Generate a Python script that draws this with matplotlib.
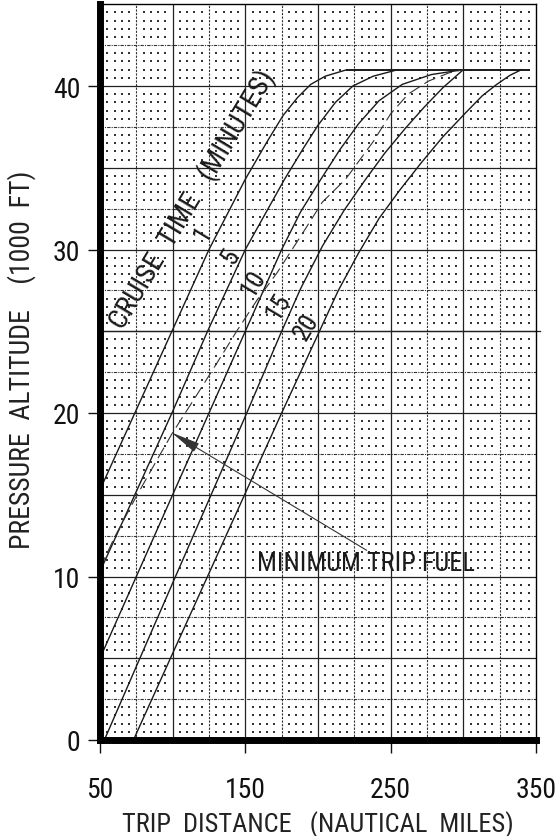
import numpy as np
import matplotlib
matplotlib.use("Agg")
import matplotlib.pyplot as plt
from matplotlib import font_manager

# narrow sans if installed, else the Arial look-alike
names = {f.name for f in font_manager.fontManager.ttflist}
FONT = 'Liberation Sans'
for cand in ['Liberation Sans Narrow', 'Roboto Condensed', 'Noto Sans Condensed']:
    if cand in names:
        FONT = cand
        break
plt.rcParams['font.family'] = [FONT, 'DejaVu Sans']

# cruise time curves (trip distance nm, pressure altitude 1000 ft)
c1_x = [50, 75, 100, 125, 150, 165, 176, 186, 195, 205, 220]
c1_y = [15.3, 20.2, 25.1, 30.0, 34.3, 36.6, 38.2, 39.3, 40.1, 40.6, 41.0]

c5_x = [50, 75, 100, 124, 150, 177, 190, 200, 212, 224, 238, 255]
c5_y = [10.3, 15.2, 20.1, 25.0, 30.0, 34.3, 36.2, 37.6, 39.0, 40.0, 40.6, 41.0]

c10_x = [50, 75, 100, 125, 150, 175, 188, 202, 215, 228, 242, 258, 278, 300]
c10_y = [5.0, 10.0, 15.0, 20.0, 25.0, 30.0, 32.3, 34.3, 36.1, 37.7, 39.1, 40.1, 40.7, 41.0]

c15_x = [53, 75, 100, 125, 150, 175, 188, 203, 218, 232, 246, 260, 273, 286, 300]
c15_y = [0, 4.5, 9.6, 14.7, 19.8, 25.0, 27.6, 30.2, 32.4, 34.2, 35.9, 37.4, 38.7, 39.9, 41.0]

c20_x = [73, 100, 125, 150, 175, 201, 214, 228, 242, 256, 271, 286, 302, 313, 323, 332, 340]
c20_y = [0, 5.3, 10.2, 15.1, 20.0, 25.0, 27.5, 29.8, 31.9, 33.6, 35.3, 36.9, 38.4, 39.4, 40.1, 40.65, 41.0]

# minimum trip fuel (dashed)
mtf_x = [50, 60, 75, 89, 100, 118, 135, 144, 158, 172, 188, 203, 219, 238, 250, 262, 276, 290, 300]
mtf_y = [10.5, 12.4, 14.9, 17.1, 18.8, 21.3, 23.7, 25.0, 26.9, 28.6, 30.8, 32.9, 34.3, 36.6, 38.3, 39.5, 40.3, 40.8, 41.0]

# ceiling
ceil_x = [220, 345]
ceil_y = [41, 41]

curve_labels = ['1', '5', '10', '15', '20']
label_x = [121, 139.5, 155.5, 172.7, 192.2]
label_y = [31.0, 29.6, 28.0, 26.6, 25.3]

xticks = [50, 150, 250, 350]
yticks = [0, 10, 20, 30, 40]

fig = plt.figure(figsize=(5.56, 8.37), dpi=100)
ax = fig.add_axes([100 / 556, 96 / 837, 436 / 556, 735.75 / 837])
ax.set_xlim(50, 350)
ax.set_ylim(0, 45)

# background grid
for v in np.arange(100, 350, 50):
    ax.axvline(v, color='#222', lw=0.9, zorder=1)
for v in np.arange(75, 350, 50):
    ax.axvline(v, color='#333', lw=0.8, ls=(0, (2, 1.2)), zorder=1)
for h in np.arange(5, 45, 5):
    ax.axhline(h, color='#222', lw=0.9, zorder=1)
for h in np.arange(2.5, 45, 5):
    ax.axhline(h, color='#333', lw=0.8, ls=(0, (3, 1, 1, 1)), zorder=1)
# the 25 line runs past the frame on the right
ax.plot([50, 353], [25, 25], color='#222', lw=0.9, clip_on=False, zorder=1)

dx = np.arange(55, 350, 5)
dx = dx[dx % 25 != 0]
dy = np.arange(0.5, 45, 0.5)
dy = dy[(dy * 2) % 5 != 0]
gx, gy = np.meshgrid(dx, dy)
ax.scatter(gx.ravel(), gy.ravel(), s=1.3, marker='s', color='#333', linewidths=0, zorder=1)

# curves
for xs, ys in [(c1_x, c1_y), (c5_x, c5_y), (c10_x, c10_y), (c15_x, c15_y), (c20_x, c20_y)]:
    ax.plot(xs, ys, color='#1a1a1a', lw=1.0, zorder=3, solid_joinstyle='round')
ax.plot(ceil_x, ceil_y, color='#1a1a1a', lw=1.4, zorder=3)
ax.plot(mtf_x, mtf_y, color='#333', lw=0.8, ls=(0, (11, 5)), zorder=3)

for t, x, y in zip(curve_labels, label_x, label_y):
    ax.text(x, y, t, rotation=59, fontsize=19, ha='center', va='center', color='#1a1a1a', zorder=4)

ax.text(113.6, 33.15, 'CRUISE  TIME   (MINUTES)', rotation=59, fontsize=20.5,
        ha='center', va='center', color='#1a1a1a', zorder=4)

ax.annotate('', xy=(99.3, 18.8), xytext=(233.5, 11.6),
            arrowprops=dict(arrowstyle='-|>,head_length=1.8,head_width=0.3',
                            color='#333', lw=0.8, shrinkA=0, shrinkB=0), zorder=4)
ax.text(158, 10.8, 'MINIMUM TRIP FUEL', fontsize=19, ha='left', va='center',
        color='#1a1a1a', zorder=4)

# frame
for s in ['left', 'bottom']:
    ax.spines[s].set_linewidth(5)
    ax.spines[s].set_zorder(5)
for s in ['top', 'right']:
    ax.spines[s].set_linewidth(1)

ax.set_xticks(xticks)
ax.set_yticks(yticks)
ax.tick_params(axis='both', direction='out', length=9, width=1, labelsize=20, colors='#111')
ax.tick_params(axis='x', pad=17)
ax.tick_params(axis='y', pad=5)

ax.set_xlabel('TRIP  DISTANCE   (NAUTICAL  MILES)', fontsize=19, color='#222', va='center')
ax.xaxis.set_label_coords(0.5, (741 - 825) / 735.75)
ax.set_ylabel('PRESSURE  ALTITUDE    (1000  FT)', fontsize=20, color='#222', va='center')
ax.yaxis.set_label_coords((22 - 100) / 436, (741 - 360) / 735.75)

fig.savefig('out.png', dpi=100)
